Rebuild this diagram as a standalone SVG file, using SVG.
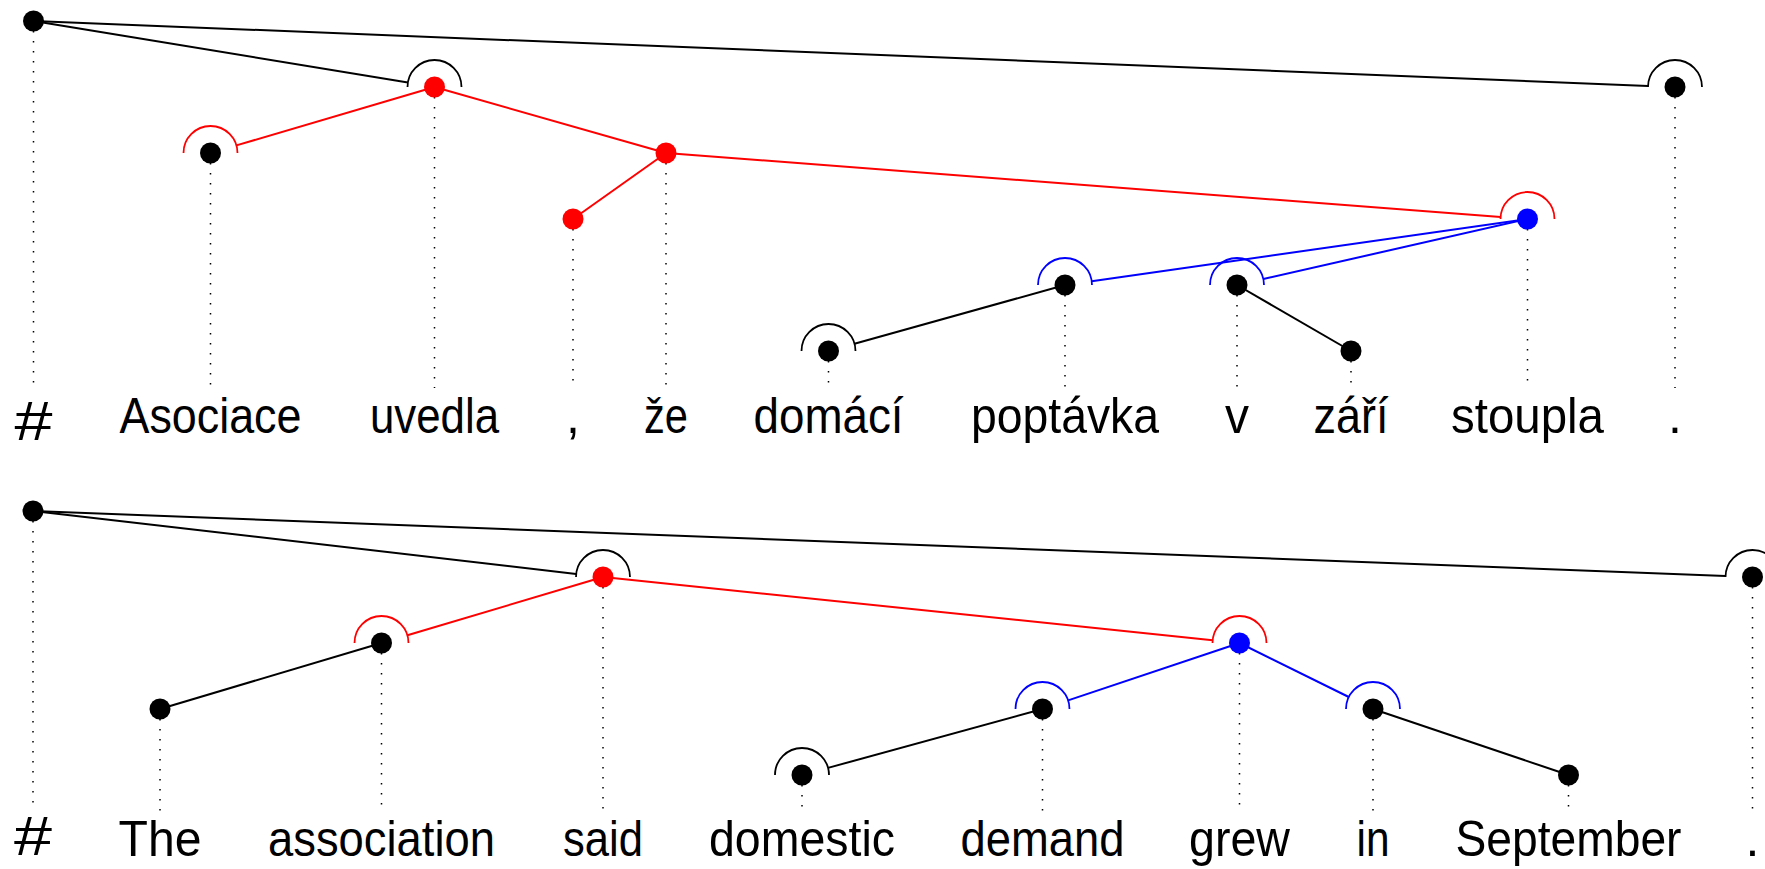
<svg xmlns="http://www.w3.org/2000/svg" width="1765" height="869" viewBox="0 0 1765 869">
<style>
.bg{fill:#fff}
.w{font-family:"Liberation Sans",Arial,sans-serif;font-size:50px;fill:#000;text-anchor:middle}
.h{font-family:"Liberation Sans",Arial,sans-serif;font-size:56px;fill:#000;text-anchor:middle}
.g{stroke:#000;stroke-width:1.5;stroke-dasharray:1.5 8.5;fill:none}
.e{stroke-width:2;fill:none}
.a{stroke-width:1.8;fill:none}
.k{stroke:#000}.r{stroke:#f00}.b{stroke:#00f}
.dk{fill:#000}.dr{fill:#f00}.db{fill:#00f}
</style>
<rect class="bg" x="0" y="0" width="1765" height="869"/>
<g id="connectors">
<!-- top sentence edges -->
<line class="e k" x1="33.5" y1="21" x2="407.9" y2="82.6"/>
<line class="e k" x1="33.5" y1="21" x2="1648" y2="85.9"/>
<line class="e r" x1="434.5" y1="87" x2="236.4" y2="145.4"/>
<line class="e r" x1="434.5" y1="87" x2="666" y2="153"/>
<line class="e r" x1="666" y1="153" x2="573" y2="219"/>
<line class="e r" x1="666" y1="153" x2="1500.6" y2="216.9"/>
<line class="e b" x1="1527.5" y1="219" x2="1091.7" y2="281.2"/>
<line class="e b" x1="1527.5" y1="219" x2="1263.3" y2="279"/>
<line class="e k" x1="1065" y1="285" x2="854.5" y2="343.7"/>
<line class="e k" x1="1237" y1="285" x2="1351" y2="351"/>
<path class="a k" d="M407.5 87 A27 27 0 0 1 461.5 87"/>
<path class="a k" d="M1648 87 A27 27 0 0 1 1702 87"/>
<path class="a r" d="M183.5 153 A27 27 0 0 1 237.5 153"/>
<path class="a r" d="M1500.5 219 A27 27 0 0 1 1554.5 219"/>
<path class="a b" d="M1038 285 A27 27 0 0 1 1092 285"/>
<path class="a b" d="M1210 285 A27 27 0 0 1 1264 285"/>
<path class="a k" d="M801.5 351 A27 27 0 0 1 855.5 351"/>
<!-- bottom sentence edges -->
<line class="e k" x1="33" y1="511" x2="576.2" y2="573.9"/>
<line class="e k" x1="33" y1="511" x2="1725.5" y2="576"/>
<line class="e r" x1="603" y1="577" x2="407.4" y2="635.3"/>
<line class="e r" x1="603" y1="577" x2="1212.6" y2="640.2"/>
<line class="e k" x1="381.5" y1="643" x2="160" y2="709"/>
<line class="e b" x1="1239.5" y1="643" x2="1068.1" y2="700.4"/>
<line class="e b" x1="1239.5" y1="643" x2="1348.8" y2="697"/>
<line class="e k" x1="1042.5" y1="709" x2="828" y2="767.9"/>
<line class="e k" x1="1373" y1="709" x2="1568.5" y2="775"/>
<path class="a k" d="M576 577 A27 27 0 0 1 630 577"/>
<path class="a k" d="M1725.5 577 A27 27 0 0 1 1779.5 577"/>
<path class="a r" d="M354.5 643 A27 27 0 0 1 408.5 643"/>
<path class="a r" d="M1212.5 643 A27 27 0 0 1 1266.5 643"/>
<path class="a b" d="M1015.5 709 A27 27 0 0 1 1069.5 709"/>
<path class="a b" d="M1346 709 A27 27 0 0 1 1400 709"/>
<path class="a k" d="M775 775 A27 27 0 0 1 829 775"/>
</g>
<!-- top sentence nodes -->
<g id="t0"><line class="g" x1="33.5" y1="31" x2="33.5" y2="388"/><circle class="dk" cx="33.5" cy="21" r="10.5"/><text class="h" x="33.5" y="440" textLength="38" lengthAdjust="spacingAndGlyphs">#</text></g>
<g id="t1"><line class="g" x1="210.5" y1="163" x2="210.5" y2="388"/><circle class="dk" cx="210.5" cy="153" r="10.5"/><text class="w" x="210.5" y="433" textLength="182" lengthAdjust="spacingAndGlyphs">Asociace</text></g>
<g id="t2"><line class="g" x1="434.5" y1="97" x2="434.5" y2="388"/><circle class="dr" cx="434.5" cy="87" r="10.5"/><text class="w" x="434.5" y="433" textLength="129" lengthAdjust="spacingAndGlyphs">uvedla</text></g>
<g id="t3"><line class="g" x1="573" y1="229" x2="573" y2="388"/><circle class="dr" cx="573" cy="219" r="10.5"/><text class="w" x="573" y="433">,</text></g>
<g id="t4"><line class="g" x1="666" y1="163" x2="666" y2="388"/><circle class="dr" cx="666" cy="153" r="10.5"/><text class="w" x="666" y="433" textLength="44" lengthAdjust="spacingAndGlyphs">že</text></g>
<g id="t5"><line class="g" x1="828.5" y1="361" x2="828.5" y2="388"/><circle class="dk" cx="828.5" cy="351" r="10.5"/><text class="w" x="828.5" y="433" textLength="150" lengthAdjust="spacingAndGlyphs">domácí</text></g>
<g id="t6"><line class="g" x1="1065" y1="295" x2="1065" y2="388"/><circle class="dk" cx="1065" cy="285" r="10.5"/><text class="w" x="1065" y="433" textLength="188" lengthAdjust="spacingAndGlyphs">poptávka</text></g>
<g id="t7"><line class="g" x1="1237" y1="295" x2="1237" y2="388"/><circle class="dk" cx="1237" cy="285" r="10.5"/><text class="w" x="1237" y="433" textLength="24" lengthAdjust="spacingAndGlyphs">v</text></g>
<g id="t8"><line class="g" x1="1351" y1="361" x2="1351" y2="388"/><circle class="dk" cx="1351" cy="351" r="10.5"/><text class="w" x="1351" y="433" textLength="75" lengthAdjust="spacingAndGlyphs">září</text></g>
<g id="t9"><line class="g" x1="1527.5" y1="229" x2="1527.5" y2="388"/><circle class="db" cx="1527.5" cy="219" r="10.5"/><text class="w" x="1527.5" y="433" textLength="153" lengthAdjust="spacingAndGlyphs">stoupla</text></g>
<g id="t10"><line class="g" x1="1675" y1="97" x2="1675" y2="388"/><circle class="dk" cx="1675" cy="87" r="10.5"/><text class="w" x="1675" y="433">.</text></g>
<!-- bottom sentence nodes -->
<g id="b0"><line class="g" x1="33" y1="521" x2="33" y2="811"/><circle class="dk" cx="33" cy="511" r="10.5"/><text class="h" x="33" y="855" textLength="38" lengthAdjust="spacingAndGlyphs">#</text></g>
<g id="b1"><line class="g" x1="160" y1="719" x2="160" y2="811"/><circle class="dk" cx="160" cy="709" r="10.5"/><text class="w" x="160" y="856" textLength="83" lengthAdjust="spacingAndGlyphs">The</text></g>
<g id="b2"><line class="g" x1="381.5" y1="653" x2="381.5" y2="811"/><circle class="dk" cx="381.5" cy="643" r="10.5"/><text class="w" x="381.5" y="856" textLength="227" lengthAdjust="spacingAndGlyphs">association</text></g>
<g id="b3"><line class="g" x1="603" y1="587" x2="603" y2="811"/><circle class="dr" cx="603" cy="577" r="10.5"/><text class="w" x="603" y="856" textLength="80" lengthAdjust="spacingAndGlyphs">said</text></g>
<g id="b4"><line class="g" x1="802" y1="785" x2="802" y2="811"/><circle class="dk" cx="802" cy="775" r="10.5"/><text class="w" x="802" y="856" textLength="186" lengthAdjust="spacingAndGlyphs">domestic</text></g>
<g id="b5"><line class="g" x1="1042.5" y1="719" x2="1042.5" y2="811"/><circle class="dk" cx="1042.5" cy="709" r="10.5"/><text class="w" x="1042.5" y="856" textLength="164" lengthAdjust="spacingAndGlyphs">demand</text></g>
<g id="b6"><line class="g" x1="1239.5" y1="653" x2="1239.5" y2="811"/><circle class="db" cx="1239.5" cy="643" r="10.5"/><text class="w" x="1239.5" y="856" textLength="101" lengthAdjust="spacingAndGlyphs">grew</text></g>
<g id="b7"><line class="g" x1="1373" y1="719" x2="1373" y2="811"/><circle class="dk" cx="1373" cy="709" r="10.5"/><text class="w" x="1373" y="856" textLength="33" lengthAdjust="spacingAndGlyphs">in</text></g>
<g id="b8"><line class="g" x1="1568.5" y1="785" x2="1568.5" y2="811"/><circle class="dk" cx="1568.5" cy="775" r="10.5"/><text class="w" x="1568.5" y="856" textLength="226" lengthAdjust="spacingAndGlyphs">September</text></g>
<g id="b9"><line class="g" x1="1752.5" y1="587" x2="1752.5" y2="811"/><circle class="dk" cx="1752.5" cy="577" r="10.5"/><text class="w" x="1752.5" y="856">.</text></g>
</svg>
